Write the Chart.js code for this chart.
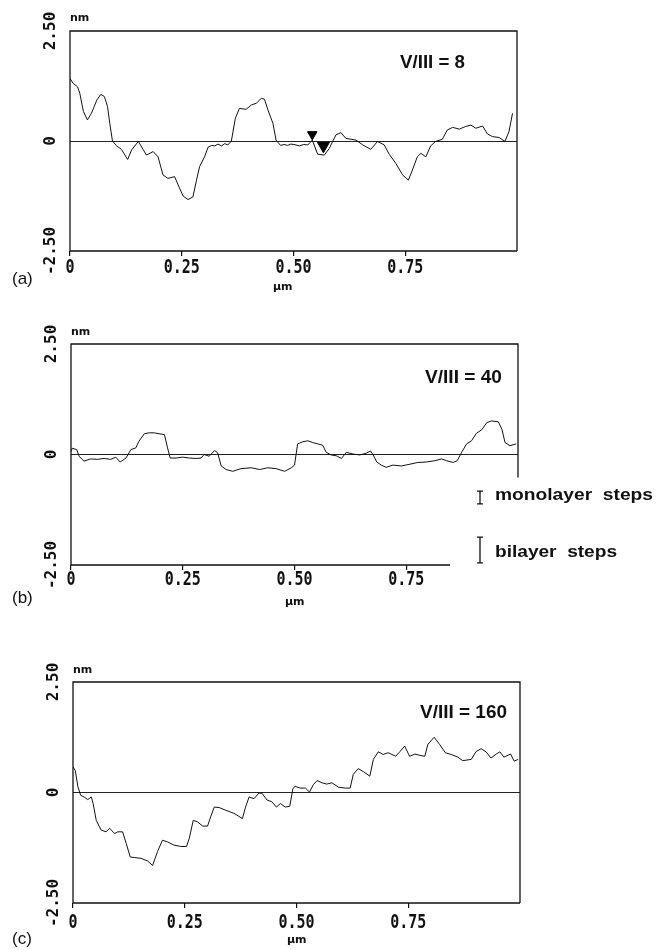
<!DOCTYPE html>
<html>
<head>
<meta charset="utf-8">
<title>Height profiles</title>
<script src="https://cdn.jsdelivr.net/npm/chart.js@4/dist/chart.umd.min.js"></script>
<style>
html, body { margin: 0; padding: 0; background: #fff; }
body { width: 665px; height: 950px; position: relative; overflow: hidden; }
canvas { position: absolute; left: 0; }
</style>
</head>
<body>
<canvas id="chartA" width="665" height="310" style="top:0px"></canvas>
<canvas id="chartB" width="665" height="310" style="top:310px"></canvas>
<canvas id="chartC" width="665" height="330" style="top:620px"></canvas>
<script>
// axis ticks
let xTicks = [0, 0.25, 0.5, 0.75];
let xTickLabels = ["0", "0.25", "0.50", "0.75"];
let yTicks = [-2.5, 0, 2.5];
let yTickLabels = ["-2.50", "0", "2.50"];
let yUnit = "nm";
let xUnit = "µm";
let ratioLabels = ["V/III = 8", "V/III = 40", "V/III = 160"];
let panelLetters = ["(a)", "(b)", "(c)"];

// (a) V/III = 8
let xA = [0.000, 0.007, 0.017, 0.022, 0.030, 0.039, 0.048, 0.060, 0.069, 0.077, 0.084, 0.089, 0.095, 0.104, 0.115, 0.129, 0.138, 0.153, 0.164, 0.171,
    0.186, 0.197, 0.208, 0.219, 0.234, 0.242, 0.253, 0.264, 0.275, 0.283, 0.290, 0.301, 0.309, 0.317, 0.324, 0.331, 0.339, 0.346, 0.353, 0.361,
    0.370, 0.379, 0.394, 0.406, 0.417, 0.428, 0.435, 0.443, 0.454, 0.461, 0.471, 0.479, 0.487, 0.494, 0.501, 0.513, 0.523, 0.532, 0.542, 0.554,
    0.569, 0.580, 0.595, 0.606, 0.617, 0.640, 0.655, 0.673, 0.688, 0.703, 0.714, 0.729, 0.744, 0.757, 0.766, 0.777, 0.785, 0.796, 0.807, 0.818,
    0.833, 0.844, 0.856, 0.871, 0.885, 0.897, 0.908, 0.923, 0.934, 0.945, 0.960, 0.973, 0.982, 0.990];
let yA = [1.42, 1.31, 1.23, 1.08, 0.67, 0.48, 0.63, 0.93, 1.06, 1.01, 0.78, 0.40, 0.00, -0.11, -0.19, -0.42, -0.20, -0.01, -0.20, -0.32,
    -0.24, -0.36, -0.77, -0.85, -0.81, -1.00, -1.25, -1.33, -1.27, -0.89, -0.58, -0.36, -0.14, -0.10, -0.11, -0.07, -0.11, -0.06, -0.09, 0.00,
    0.52, 0.74, 0.72, 0.82, 0.86, 0.97, 0.95, 0.70, 0.40, 0.02, -0.10, -0.08, -0.10, -0.07, -0.08, -0.11, -0.08, -0.09, 0.02, -0.30,
    -0.32, -0.17, 0.14, 0.19, 0.06, 0.02, -0.09, -0.19, -0.01, -0.09, -0.30, -0.51, -0.77, -0.89, -0.66, -0.36, -0.28, -0.36, -0.11, -0.01,
    0.04, 0.25, 0.31, 0.27, 0.33, 0.36, 0.29, 0.34, 0.16, 0.10, 0.08, -0.01, 0.21, 0.63];
let markerX = [0.542, 0.567];
let markerY = [0.15, -0.11];

// (b) V/III = 40
let xB = [0.000, 0.003, 0.013, 0.018, 0.029, 0.044, 0.059, 0.074, 0.089, 0.100, 0.110, 0.123, 0.134, 0.145, 0.152, 0.164, 0.175, 0.186, 0.197, 0.209,
    0.216, 0.222, 0.235, 0.250, 0.265, 0.280, 0.291, 0.298, 0.309, 0.321, 0.328, 0.336, 0.347, 0.362, 0.380, 0.403, 0.422, 0.440, 0.459, 0.478,
    0.493, 0.500, 0.507, 0.519, 0.530, 0.541, 0.552, 0.563, 0.571, 0.582, 0.594, 0.605, 0.616, 0.631, 0.646, 0.661, 0.670, 0.676, 0.684, 0.694,
    0.705, 0.720, 0.739, 0.758, 0.776, 0.795, 0.814, 0.829, 0.840, 0.855, 0.864, 0.874, 0.885, 0.896, 0.907, 0.919, 0.930, 0.941, 0.956, 0.964,
    0.971, 0.982, 0.996];
let yB = [0.07, 0.14, 0.11, -0.04, -0.15, -0.10, -0.11, -0.09, -0.11, -0.06, -0.17, -0.08, 0.11, 0.15, 0.30, 0.47, 0.49, 0.49, 0.47, 0.45,
    0.15, -0.08, -0.08, -0.06, -0.08, -0.09, -0.08, 0.00, -0.04, 0.09, 0.04, -0.26, -0.34, -0.38, -0.32, -0.30, -0.34, -0.30, -0.32, -0.38,
    -0.30, -0.24, 0.24, 0.29, 0.31, 0.27, 0.24, 0.21, 0.05, -0.01, -0.03, -0.09, 0.05, 0.01, -0.01, 0.03, 0.08, -0.01, -0.17, -0.24,
    -0.29, -0.24, -0.26, -0.22, -0.18, -0.17, -0.14, -0.10, -0.14, -0.18, -0.14, 0.05, 0.24, 0.31, 0.48, 0.56, 0.72, 0.76, 0.74, 0.57,
    0.27, 0.20, 0.24];
let stepLabels = ["monolayer  steps", "bilayer  steps"];
let stepHeights = [0.29, 0.58];

// (c) V/III = 160
let xC = [0.000, 0.005, 0.011, 0.017, 0.026, 0.033, 0.041, 0.045, 0.052, 0.063, 0.074, 0.082, 0.093, 0.100, 0.111, 0.119, 0.128, 0.137, 0.152, 0.167,
    0.178, 0.189, 0.200, 0.212, 0.226, 0.241, 0.254, 0.260, 0.269, 0.278, 0.290, 0.301, 0.308, 0.316, 0.327, 0.341, 0.360, 0.379, 0.386, 0.394,
    0.405, 0.416, 0.423, 0.434, 0.445, 0.455, 0.464, 0.475, 0.485, 0.492, 0.497, 0.508, 0.520, 0.529, 0.538, 0.546, 0.557, 0.568, 0.579, 0.594,
    0.609, 0.620, 0.627, 0.638, 0.650, 0.664, 0.672, 0.683, 0.694, 0.705, 0.722, 0.731, 0.742, 0.753, 0.765, 0.776, 0.787, 0.794, 0.808, 0.820,
    0.833, 0.846, 0.861, 0.872, 0.891, 0.902, 0.913, 0.924, 0.935, 0.947, 0.955, 0.964, 0.979, 0.987, 0.996];
let yC = [0.58, 0.50, 0.13, -0.06, -0.11, -0.16, -0.10, -0.25, -0.63, -0.85, -0.89, -0.81, -0.93, -0.89, -0.89, -1.15, -1.46, -1.47, -1.49, -1.55,
    -1.65, -1.34, -1.08, -1.12, -1.19, -1.22, -1.22, -1.04, -0.63, -0.66, -0.76, -0.76, -0.55, -0.33, -0.34, -0.40, -0.47, -0.59, -0.33, -0.10,
    -0.14, -0.01, -0.02, -0.17, -0.21, -0.33, -0.25, -0.33, -0.31, 0.09, 0.14, 0.10, 0.10, 0.01, 0.18, 0.27, 0.22, 0.19, 0.22, 0.12,
    0.10, 0.10, 0.41, 0.54, 0.47, 0.37, 0.75, 0.92, 0.86, 0.90, 0.82, 0.92, 1.05, 0.82, 0.87, 0.84, 0.82, 1.09, 1.25, 1.09,
    0.90, 0.86, 0.80, 0.72, 0.75, 0.93, 0.99, 0.92, 0.78, 0.87, 0.92, 0.80, 0.87, 0.71, 0.75];


function toPoints(xs, ys) {
    return xs.map((x, i) => ({ x: x, y: ys[i] }));
}

function drawScaled(ctx, text, x, y, font, kx, align) {
    ctx.save();
    ctx.font = font;
    ctx.translate(x, y);
    ctx.scale(kx, 1);
    ctx.textAlign = align || "left";
    ctx.textBaseline = "alphabetic";
    ctx.fillText(text, 0, 0);
    ctx.restore();
}

function drawFit(ctx, text, x, y, font, width, align) {
    ctx.save();
    ctx.font = font;
    let k = width / ctx.measureText(text).width;
    ctx.restore();
    drawScaled(ctx, text, x, y, font, k, align);
}

// frame, tick labels, captions
const profileDecor = {
    id: "profileDecor",
    afterDraw(chart, args, opts) {
        let ctx = chart.ctx;
        let area = chart.chartArea;
        let xs = chart.scales.x;
        let ys = chart.scales.y;
        ctx.save();
        ctx.fillStyle = "#111";
        ctx.strokeStyle = "#111";
        ctx.lineWidth = 1.3;

        let bottomEnd = xs.getPixelForValue(opts.frameXMax);
        let rightEnd = ys.getPixelForValue(opts.frameYMin);
        ctx.beginPath();
        ctx.moveTo(bottomEnd, area.bottom);
        ctx.lineTo(area.left, area.bottom);
        ctx.lineTo(area.left, area.top);
        ctx.lineTo(area.right, area.top);
        ctx.lineTo(area.right, rightEnd);
        ctx.stroke();

        xTicks.forEach((v, i) => {
            drawScaled(ctx, xTickLabels[i], xs.getPixelForValue(v), area.bottom + opts.tickBase,
                "bold 20px 'DejaVu Sans Mono'", 0.75, "center");
        });

        yTicks.forEach((v, i) => {
            ctx.save();
            ctx.translate(area.left - 19, ys.getPixelForValue(v));
            ctx.rotate(-Math.PI / 2);
            ctx.font = "bold 16px 'DejaVu Sans Mono'";
            ctx.textAlign = "center";
            ctx.textBaseline = "middle";
            ctx.fillText(yTickLabels[i], 0, 0);
            ctx.restore();
        });

        drawScaled(ctx, yUnit, opts.unitY[0], opts.unitY[1], "bold 11px 'DejaVu Sans'", 1, "left");
        drawScaled(ctx, xUnit, opts.unitX[0], opts.unitX[1], "bold 11px 'DejaVu Sans'", 1, "left");
        drawFit(ctx, opts.ratio, opts.ratioPos[0], opts.ratioPos[1], "bold 19px 'Liberation Sans'", opts.ratioPos[2], "left");
        drawScaled(ctx, opts.letter, opts.letterPos[0], opts.letterPos[1], "17px 'Liberation Sans'", 1, "left");

        if (opts.steps) {
            let perNm = Math.abs(ys.getPixelForValue(0) - ys.getPixelForValue(1));
            ctx.lineWidth = 1.3;
            opts.steps.forEach((s, i) => {
                let half = stepHeights[i] * perNm / 2;
                ctx.beginPath();
                ctx.moveTo(s.x, s.cy - half);
                ctx.lineTo(s.x, s.cy + half);
                ctx.moveTo(s.x - 3, s.cy - half);
                ctx.lineTo(s.x + 3, s.cy - half);
                ctx.moveTo(s.x - 3, s.cy + half);
                ctx.lineTo(s.x + 3, s.cy + half);
                ctx.stroke();
                drawFit(ctx, stepLabels[i], s.x + 15, s.base, "bold 16px 'Liberation Sans'", s.width, "left");
            });
        }
        ctx.restore();
    }
};

function makeChart(id, datasets, pad, decor) {
    return new Chart(document.getElementById(id), {
        type: "scatter",
        data: { datasets: datasets },
        plugins: [profileDecor],
        options: {
            responsive: false,
            animation: false,
            events: [],
            layout: { padding: pad },
            plugins: {
                legend: { display: false },
                tooltip: { enabled: false },
                profileDecor: decor
            },
            scales: {
                x: {
                    type: "linear",
                    min: 0,
                    max: 1,
                    afterBuildTicks: (s) => { s.ticks = xTicks.map(v => ({ value: v })); },
                    afterFit: (s) => { s.height = 0; },
                    ticks: { display: false },
                    border: { display: false },
                    grid: { drawOnChartArea: false, drawTicks: true, tickLength: 5, color: "#111", lineWidth: 1.2 }
                },
                y: {
                    type: "linear",
                    min: -2.5,
                    max: 2.5,
                    afterBuildTicks: (s) => { s.ticks = yTicks.map(v => ({ value: v })); },
                    afterFit: (s) => { s.width = 0; },
                    ticks: { display: false },
                    border: { display: false },
                    grid: {
                        drawTicks: false,
                        lineWidth: 1,
                        color: (c) => (c.tick && c.tick.value === 0) ? "#222" : "rgba(0,0,0,0)"
                    }
                }
            }
        }
    });
}

function profileSet(points) {
    return {
        data: points,
        showLine: true,
        borderColor: "#111",
        borderWidth: 1,
        pointRadius: 0,
        tension: 0
    };
}

makeChart("chartA", [
    profileSet(toPoints(xA, yA)),
    {
        data: toPoints(markerX, markerY),
        showLine: false,
        pointStyle: "triangle",
        rotation: 180,
        pointRadius: [5.5, 7],
        backgroundColor: "#000",
        borderColor: "#000",
        borderWidth: 1
    }
], { left: 70, top: 31, right: 148, bottom: 59 }, {
    ratio: ratioLabels[0], ratioPos: [400, 68, 65],
    letter: panelLetters[0], letterPos: [12, 284],
    unitY: [70, 21], unitX: [273, 290],
    tickBase: 22, frameXMax: 1, frameYMin: -2.5
});

makeChart("chartB", [
    profileSet(toPoints(xB, yB))
], { left: 71, top: 34, right: 147, bottom: 55 }, {
    ratio: ratioLabels[1], ratioPos: [425, 73, 77],
    letter: panelLetters[1], letterPos: [12, 293],
    unitY: [71, 25], unitX: [285, 295],
    tickBase: 20, frameXMax: 0.848, frameYMin: -0.52,
    steps: [
        { x: 480, cy: 187.5, base: 190, width: 158 },
        { x: 480, cy: 240, base: 247, width: 122 }
    ]
});

makeChart("chartC", [
    profileSet(toPoints(xC, yC))
], { left: 73, top: 62, right: 145, bottom: 47 }, {
    ratio: ratioLabels[2], ratioPos: [420, 98, 87],
    letter: panelLetters[2], letterPos: [12, 324],
    unitY: [73, 53], unitX: [287, 323],
    tickBase: 25, frameXMax: 1, frameYMin: -2.5
});
</script>
</body>
</html>
